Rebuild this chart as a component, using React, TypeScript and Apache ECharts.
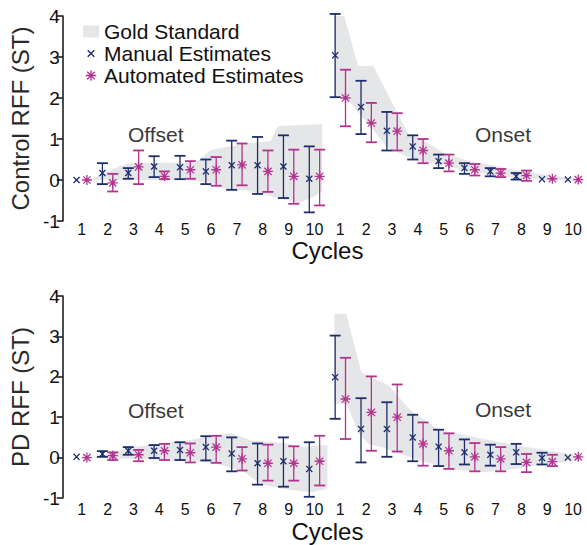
import React, { useEffect, useRef } from 'react';
import * as echarts from 'echarts';

const FONT = '"Liberation Sans", Arial, Helvetica, sans-serif';
const MANUAL = '#1e2d6c';
const AUTO = '#b3348f';
const BAND = '#e5e6e8';

const xLabels = ['1', '2', '3', '4', '5', '6', '7', '8', '9', '10', '1', '2', '3', '4', '5', '6', '7', '8', '9', '10'];
const yTicks = [-1, 0, 1, 2, 3, 4];

// Control panel (top)
const ctrlManual = [0.0, 0.17, 0.17, 0.33, 0.31, 0.21, 0.36, 0.36, 0.33, 0.03, 3.04, 1.78, 1.2, 0.82, 0.46, 0.29, 0.21, 0.09, 0.02, 0.01];
const ctrlManualLo = [0.0, -0.1, 0.03, 0.07, 0.02, -0.1, -0.24, -0.34, -0.44, -0.79, 2.02, 1.12, 0.72, 0.5, 0.29, 0.15, 0.09, 0.01, 0.02, 0.01];
const ctrlManualHi = [0.0, 0.41, 0.29, 0.58, 0.59, 0.5, 0.96, 1.05, 1.09, 0.82, 4.05, 2.42, 1.66, 1.09, 0.62, 0.41, 0.29, 0.17, 0.02, 0.01];
const ctrlAuto = [0.0, -0.07, 0.32, 0.09, 0.25, 0.25, 0.37, 0.21, 0.09, 0.09, 2.0, 1.39, 1.19, 0.72, 0.41, 0.25, 0.17, 0.11, 0.03, 0.01];
const ctrlAutoLo = [0.0, -0.28, -0.1, 0.02, 0.03, -0.14, -0.13, -0.29, -0.58, -0.62, 1.31, 0.92, 0.72, 0.41, 0.21, 0.11, 0.07, -0.02, 0.03, 0.01];
const ctrlAutoHi = [0.0, 0.15, 0.72, 0.21, 0.46, 0.56, 0.89, 0.72, 0.74, 0.74, 2.69, 1.88, 1.63, 1.0, 0.62, 0.39, 0.27, 0.23, 0.03, 0.01];

// Gold standard band, control panel: [position, value]
const ctrlOffsetUpper = [[1.3, 0.0], [2.5, 0.35], [3.0, 0.42], [5.4, 0.42], [6.0, 0.73], [7.2, 0.88], [8.3, 0.95], [8.6, 1.32], [10.3, 1.36]];
const ctrlOffsetLower = [[1.3, 0.0], [5.0, 0.0], [6.0, -0.07], [6.6, -0.23], [7.3, -0.25], [8.1, -0.36], [9.4, -0.56], [10.0, -0.4], [10.3, -0.27]];
const ctrlOnsetUpper = [[10.77, 4.0], [11.15, 4.0], [11.69, 2.78], [12.27, 2.78], [13.65, 1.1], [14.0, 1.05], [15.0, 0.66], [16.0, 0.46], [17.0, 0.34], [18.0, 0.22], [19.0, 0.12], [20.0, 0.04], [20.3, 0.02]];
const ctrlOnsetLower = [[10.77, 2.0], [11.23, 2.0], [12.85, 0.78], [14.0, 0.45], [15.0, 0.37], [16.0, 0.2], [17.0, 0.12], [18.0, 0.04], [19.0, 0.0], [20.3, -0.02]];

// PD panel (bottom)
const pdManual = [0.02, 0.09, 0.17, 0.17, 0.19, 0.26, 0.1, -0.14, -0.09, -0.28, 1.99, 0.71, 0.71, 0.5, 0.27, 0.13, 0.07, 0.13, -0.01, 0.0];
const pdManualLo = [0.02, 0.02, 0.07, -0.01, -0.06, -0.07, -0.34, -0.67, -0.72, -0.97, 0.96, -0.12, 0.02, -0.09, -0.21, -0.17, -0.2, -0.16, -0.17, 0.0];
const pdManualHi = [0.02, 0.16, 0.26, 0.31, 0.38, 0.53, 0.5, 0.35, 0.5, 0.38, 3.02, 1.47, 1.37, 1.06, 0.69, 0.45, 0.32, 0.34, 0.12, 0.0];
const pdAuto = [0.0, 0.05, 0.07, 0.17, 0.12, 0.26, -0.03, -0.14, -0.14, -0.09, 1.45, 1.12, 1.0, 0.34, 0.17, 0.02, -0.03, -0.12, -0.1, 0.02];
const pdAutoLo = [0.0, -0.06, -0.09, -0.06, -0.12, -0.13, -0.32, -0.57, -0.57, -0.69, 0.46, 0.17, 0.15, -0.2, -0.28, -0.34, -0.34, -0.36, -0.21, 0.02];
const pdAutoHi = [0.0, 0.13, 0.19, 0.34, 0.35, 0.54, 0.26, 0.32, 0.28, 0.54, 2.47, 2.01, 1.81, 0.87, 0.6, 0.36, 0.26, 0.09, 0.07, 0.02];

const pdOffsetUpper = [[1.5, 0.0], [2.0, 0.08], [3.0, 0.26], [4.0, 0.34], [5.0, 0.42], [6.0, 0.54], [6.8, 0.6], [7.6, 0.42], [8.5, 0.38], [9.0, 0.34], [9.5, 0.26], [10.5, 0.32]];
const pdOffsetLower = [[1.5, 0.0], [2.0, -0.02], [3.0, -0.03], [4.0, -0.06], [5.0, -0.08], [6.0, -0.12], [7.2, -0.32], [7.9, -0.65], [8.8, -0.78], [9.85, -0.86], [10.5, -0.78]];
const pdOnsetUpper = [[10.77, 3.56], [11.23, 3.56], [11.81, 2.11], [12.88, 1.78], [13.73, 1.16], [14.77, 0.71], [15.27, 0.63], [16.54, 0.46], [17.85, 0.3], [19.1, 0.17], [19.88, 0.09], [20.3, 0.05]];
const pdOnsetLower = [[10.77, 1.33], [11.23, 1.33], [11.73, 0.59], [12.08, 0.34], [12.58, 0.26], [13.5, 0.05], [14.5, -0.15], [15.27, -0.28], [16.54, -0.36], [17.5, -0.3], [18.46, -0.2], [19.5, -0.12], [20.3, -0.05]];

const X_PATH = 'path://M0,1.3L1.3,0L5,3.7L8.7,0L10,1.3L6.3,5L10,8.7L8.7,10L5,6.3L1.3,10L0,8.7L3.7,5Z';
const STAR_PATH = 'path://M4.35,0H5.65V10H4.35Z M0,4.35H10V5.65H0Z M0.9,1.8L1.8,0.9L9.1,8.2L8.2,9.1Z M8.2,0.9L9.1,1.8L1.8,9.1L0.9,8.2Z';
const X_LEG = 'path://M-5.5,-3M15.5,13M0,1.3L1.3,0L5,3.7L8.7,0L10,1.3L6.3,5L10,8.7L8.7,10L5,6.3L1.3,10L0,8.7L3.7,5Z';
const STAR_LEG = 'path://M-2.6,-0.7M12.6,10.7M4.35,0H5.65V10H4.35Z M0,4.35H10V5.65H0Z M0.9,1.8L1.8,0.9L9.1,8.2L8.2,9.1Z M8.2,0.9L9.1,1.8L1.8,9.1L0.9,8.2Z';

const SHIFT = 0.2;

function bandSeries(name: string, upper: number[][], lower: number[][], axis: number) {
  return {
    type: 'custom',
    name,
    xAxisIndex: axis * 2 + 1,
    yAxisIndex: axis,
    itemStyle: { color: BAND },
    z: 1,
    silent: true,
    data: [[upper[0][0], upper[0][1]]],
    renderItem: (_p: any, api: any) => {
      const pts = upper.map((p) => api.coord(p)).concat(lower.slice().reverse().map((p) => api.coord(p)));
      return { type: 'polygon', shape: { points: pts }, style: { fill: BAND } };
    },
  };
}

function errSeries(name: string, lo: number[], hi: number[], shift: number, color: string, axis: number) {
  return {
    type: 'custom',
    name,
    xAxisIndex: axis * 2 + 1,
    yAxisIndex: axis,
    z: 2,
    silent: true,
    data: lo.map((l, i) => [i + 1 + shift, l, hi[i]]),
    renderItem: (_p: any, api: any) => {
      const x = api.value(0);
      const l = api.value(1);
      const h = api.value(2);
      if (h - l < 0.04) return { type: 'group', children: [] };
      const t = api.coord([x, h]);
      const b = api.coord([x, l]);
      const half = 5.5;
      const st = { stroke: color, lineWidth: 1.3 };
      const cap = { stroke: color, lineWidth: 1.8 };
      return {
        type: 'group',
        children: [
          { type: 'line', shape: { x1: t[0], y1: t[1], x2: b[0], y2: b[1] }, style: st },
          { type: 'line', shape: { x1: t[0] - half, y1: t[1], x2: t[0] + half, y2: t[1] }, style: cap },
          { type: 'line', shape: { x1: b[0] - half, y1: b[1], x2: b[0] + half, y2: b[1] }, style: cap },
        ],
      };
    },
  };
}

function markSeries(name: string, vals: number[], shift: number, color: string, symbol: string, size: number, axis: number) {
  return {
    type: 'scatter',
    name,
    xAxisIndex: axis * 2 + 1,
    yAxisIndex: axis,
    z: 3,
    symbol,
    symbolSize: size,
    itemStyle: { color, opacity: 1 },
    data: vals.map((v, i) => [i + 1 + shift, v]),
  };
}

export default function App() {
  const ref = useRef<HTMLDivElement>(null);
  useEffect(() => {
    if (!ref.current) return;
    const chart = echarts.init(ref.current, undefined, { renderer: 'svg' });
    const grids = [
      { left: 66, top: 16, width: 520, height: 205 },
      { left: 66, top: 296, width: 520, height: 202 },
    ];
    const catAxis = (gi: number, margin: number, gap: number) => ({
      type: 'category',
      gridIndex: gi,
      data: xLabels,
      axisLine: { show: false },
      axisTick: { show: false },
      axisLabel: { color: '#111', fontSize: 16, fontFamily: FONT, margin, interval: 0 },
      name: 'Cycles',
      nameLocation: 'middle',
      nameGap: gap,
      nameTextStyle: { color: '#111', fontSize: 24, fontFamily: FONT },
    });
    const valAxis = (gi: number) => ({
      type: 'value',
      gridIndex: gi,
      min: 0.5,
      max: 20.5,
      show: false,
    });
    const yAx = (gi: number, name: string) => ({
      type: 'value',
      gridIndex: gi,
      min: yTicks[0],
      max: yTicks[yTicks.length - 1],
      interval: 1,
      offset: 6,
      splitLine: { show: false },
      axisLine: { show: true, lineStyle: { color: '#111', width: 1.5 } },
      axisTick: { show: true, length: 6, lineStyle: { color: '#111', width: 1.5 } },
      axisLabel: { color: '#111', fontSize: 19, fontFamily: FONT, margin: 3 },
      name,
      nameLocation: 'middle',
      nameGap: 27,
      nameTextStyle: { color: '#2a2a2a', fontSize: 24, fontFamily: FONT },
    });
    const option: any = {
      animation: false,
      backgroundColor: '#fff',
      grid: grids,
      xAxis: [catAxis(0, 0, 17), valAxis(0), catAxis(1, 3, 21), valAxis(1)],
      yAxis: [yAx(0, 'Control RFF (ST)'), yAx(1, 'PD RFF (ST)')],
      legend: {
        orient: 'vertical',
        left: 78,
        top: 16,
        itemGap: 1,
        itemWidth: 16,
        itemHeight: 12,
        selectedMode: false,
        textStyle: { fontSize: 21, color: '#111', fontFamily: FONT, lineHeight: 21 },
        data: [
          { name: 'Gold Standard', icon: 'rect' },
          { name: 'Manual Estimates', icon: X_LEG },
          { name: 'Automated Estimates', icon: STAR_LEG },
        ],
      },
      graphic: [
        { type: 'text', left: 128, top: 124, style: { text: 'Offset', fontSize: 21, fontFamily: FONT, fill: '#3a3a3a' } },
        { type: 'text', left: 475, top: 124, style: { text: 'Onset', fontSize: 21, fontFamily: FONT, fill: '#3a3a3a' } },
        { type: 'text', left: 128, top: 400, style: { text: 'Offset', fontSize: 21, fontFamily: FONT, fill: '#3a3a3a' } },
        { type: 'text', left: 475, top: 399, style: { text: 'Onset', fontSize: 21, fontFamily: FONT, fill: '#3a3a3a' } },
      ],
      series: [
        bandSeries('Gold Standard', ctrlOffsetUpper, ctrlOffsetLower, 0),
        bandSeries('Gold Standard', ctrlOnsetUpper, ctrlOnsetLower, 0),
        bandSeries('Gold Standard', pdOffsetUpper, pdOffsetLower, 1),
        bandSeries('Gold Standard', pdOnsetUpper, pdOnsetLower, 1),
        errSeries('Manual Error', ctrlManualLo, ctrlManualHi, -SHIFT, MANUAL, 0),
        errSeries('Automated Error', ctrlAutoLo, ctrlAutoHi, SHIFT, AUTO, 0),
        errSeries('Manual Error', pdManualLo, pdManualHi, -SHIFT, MANUAL, 1),
        errSeries('Automated Error', pdAutoLo, pdAutoHi, SHIFT, AUTO, 1),
        markSeries('Manual Estimates', ctrlManual, -SHIFT, MANUAL, X_PATH, 7, 0),
        markSeries('Automated Estimates', ctrlAuto, SHIFT, AUTO, STAR_PATH, 10, 0),
        markSeries('Manual Estimates', pdManual, -SHIFT, MANUAL, X_PATH, 7, 1),
        markSeries('Automated Estimates', pdAuto, SHIFT, AUTO, STAR_PATH, 10, 1),
      ],
    };
    chart.setOption(option);
    return () => chart.dispose();
  }, []);
  return <div ref={ref} style={{ position: 'absolute', left: 0, top: 0, width: 587, height: 545 }} />;
}
